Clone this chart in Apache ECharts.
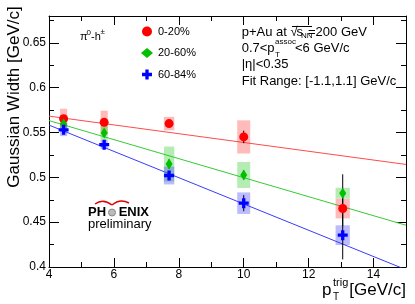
<!DOCTYPE html>
<html><head><meta charset="utf-8">
<script src="https://cdn.jsdelivr.net/npm/echarts@6/dist/echarts.min.js"></script>
<style>html,body{margin:0;padding:0;background:#fff}#c{width:415px;height:304px}</style>
</head><body><div id="c"></div>
<script>
// ---- data ----
const ptTrig = [4.45, 5.7, 7.7, 10.0, 13.05];
const boxHalfWidth = [0.11, 0.11, 0.16, 0.2, 0.22];
const width0_20 = [0.5655, 0.5614, 0.560, 0.5451, 0.4652];
const stat0_20 = [0.004, 0.004, 0.004, 0.007, 0.02];
const sys0_20 = [0.011, 0.013, 0.0075, 0.0185, 0.011];
const width20_60 = [0.5596, 0.5495, 0.5149, 0.5026, 0.4824];
const stat20_60 = [0.003, 0.004, 0.005, 0.005, 0.021];
const sys20_60 = [0.006, 0.008, 0.0195, 0.0145, 0.006];
const width60_84 = [0.553, 0.5365, 0.5021, 0.4712, 0.4355];
const stat60_84 = [0.003, 0.003, 0.005, 0.009, 0.027];
const sys60_84 = [0.007, 0.005, 0.01, 0.012, 0.011];
const fitX = [4, 15];
const fit0_20 = [0.5683, 0.5144];
const fit20_60 = [0.5633, 0.4466];
const fit60_84 = [0.5583, 0.397];
const legendNames = ['0-20%', '20-60%', '60-84%'];
const xTicks = [4, 6, 8, 10, 12, 14];
const yTicks = [0.4, 0.45, 0.5, 0.55, 0.6, 0.65];

const FONT = 'Liberation Sans, Arial, Helvetica, sans-serif';
const crossPath = 'path://M3,0 L6,0 L6,3 L9,3 L9,6 L6,6 L6,9 L3,9 L3,6 L0,6 L0,3 L3,3 Z';

const groups = [
  {name: legendNames[0], w: width0_20, st: stat0_20, sy: sys0_20, fit: fit0_20,
   color: '#ff0000', box: 'rgba(255,40,40,0.32)', line: '#ff4a4a', symbol: 'circle', size: 9},
  {name: legendNames[1], w: width20_60, st: stat20_60, sy: sys20_60, fit: fit20_60,
   color: '#00c000', box: 'rgba(40,200,40,0.35)', line: '#33cc33', symbol: 'diamond', size: [7, 11]},
  {name: legendNames[2], w: width60_84, st: stat60_84, sy: sys60_84, fit: fit60_84,
   color: '#0000ff', box: 'rgba(60,60,255,0.35)', line: '#3a3aff', symbol: crossPath, size: 10}
];

const series = [];
groups.forEach(g => {
  series.push({
    type: 'line', name: g.name + ' fit', data: fitX.map((x, i) => [x, g.fit[i]]),
    showSymbol: false, symbol: 'none', lineStyle: {color: g.line, width: 1}, clip: true,
    silent: true, z: 1
  });
});
groups.forEach(g => {
  series.push({
    type: 'custom', name: g.name + ' sys',
    data: ptTrig.map((x, i) => [x, g.w[i], boxHalfWidth[i], g.sy[i]]),
    renderItem: (params, api) => {
      const x = api.value(0), y = api.value(1), hw = api.value(2), s = api.value(3);
      const p1 = api.coord([x - hw, y + s]);
      const p2 = api.coord([x + hw, y - s]);
      return {type: 'rect', shape: {x: p1[0], y: p1[1], width: p2[0] - p1[0], height: p2[1] - p1[1]},
        style: {fill: g.box}};
    }, z: 2
  });
  series.push({
    type: 'custom', name: g.name + ' stat',
    data: ptTrig.map((x, i) => [x, g.w[i], g.st[i]]),
    renderItem: (params, api) => {
      const x = api.value(0), y = api.value(1), s = api.value(2);
      const p1 = api.coord([x, y + s]);
      const p2 = api.coord([x, y - s]);
      return {type: 'line', shape: {x1: p1[0], y1: p1[1], x2: p2[0], y2: p2[1]},
        style: {stroke: '#000', lineWidth: 1}};
    }, z: 2
  });
  series.push({
    type: 'scatter', name: g.name, data: ptTrig.map((x, i) => [x, g.w[i]]),
    symbol: g.symbol, symbolSize: g.size, itemStyle: {color: g.color, opacity: 1}, z: 2
  });
});

function axisCommon(show) {
  return {
    axisLine: {show: true, onZero: false, lineStyle: {color: '#000', width: 1}},
    axisTick: {show: true, inside: true, length: 9, lineStyle: {color: '#000'}},
    minorTick: {show: true, splitNumber: 2, length: 5, lineStyle: {color: '#000'}},
    splitLine: {show: false},
    axisLabel: {show: show, color: '#000', fontFamily: FONT, fontSize: 12, showMaxLabel: false}
  };
}

const chart = echarts.init(document.getElementById('c'), null, {renderer: 'canvas'});
const xb = axisCommon(true); xb.axisLabel.margin = 2;
xb.axisLabel.formatter = v => xTicks.indexOf(v) >= 0 ? String(v) : '';
const yb = axisCommon(true); yb.axisLabel.margin = 3;
yb.axisLabel.formatter = v => yTicks.some(t => Math.abs(t - v) < 1e-9) ? String(+v.toFixed(2)) : '';
yb.axisTick.length = 10;
const yr = axisCommon(false); yr.axisTick.length = 10;

const t = (text, x, y, size, extra) => Object.assign({type: 'text', x: x, y: y, silent: true,
  style: Object.assign({text: text, font: size + 'px ' + FONT, fill: '#000', verticalAlign: 'middle', align: 'left'}, extra || {})});

const yTitle = t('Gaussian Width [GeV/c]', 14, 97, 17, {align: 'center'});
yTitle.rotation = Math.PI / 2;

chart.setOption({
  animation: false,
  grid: {left: 49, right: 9, top: 16, bottom: 37},
  xAxis: [
    Object.assign({type: 'value', position: 'bottom', min: 4, max: 15, interval: 2}, xb),
    Object.assign({type: 'value', position: 'top', min: 4, max: 15, interval: 2}, axisCommon(false))
  ],
  yAxis: [
    Object.assign({type: 'value', position: 'left', min: 0.4, max: 0.68, interval: 0.05}, yb),
    Object.assign({type: 'value', position: 'right', min: 0.4, max: 0.68, interval: 0.05}, yr)
  ],
  legend: {
    data: legendNames, orient: 'vertical', left: 136, top: 21, itemWidth: 12, itemHeight: 10,
    itemGap: 10.5, textStyle: {fontFamily: FONT, fontSize: 11, color: '#000'}, selectedMode: false
  },
  series: series,
  graphic: [
    yTitle,
    t('p', 322, 290, 17),
    t('trig', 333, 283, 11),
    t('T', 333, 297, 10),
    t('[GeV/c]', 406, 290, 17, {align: 'right'}),
    t('π', 80, 37, 11),
    t('0', 86.5, 33, 8),
    t('-h', 91, 37, 11),
    t('±', 100.5, 32, 8),
    t('p+Au at √', 241.7, 32, 13),
    {type: 'line', silent: true, shape: {x1: 292, y1: 26.5, x2: 312, y2: 26.5}, style: {stroke: '#000', lineWidth: 1}},
    t('s', 296.5, 32, 13),
    t('NN', 301, 35.5, 8),
    t('=200 GeV', 308, 32, 13),
    t('0.7<p', 241.7, 48, 13),
    t('assoc', 275, 41.5, 8),
    t('T', 275, 55, 8),
    t('<6 GeV/c', 295, 48, 13),
    t('|η|<0.35', 241.7, 64, 13),
    t('Fit Range: [-1.1,1.1] GeV/c', 241.7, 81, 13),
    t('PH', 88, 212.5, 13, {font: 'bold 13px ' + FONT}),
    t('ENIX', 149, 212.5, 13, {align: 'right', font: 'bold 13px ' + FONT}),
    {type: 'circle', silent: true, shape: {cx: 112, cy: 212.5, r: 3.5}, style: {fill: '#bbb', stroke: '#888', lineWidth: 1}},
    t('preliminary', 88, 224.5, 13),
    {type: 'bezierCurve', silent: true, shape: {x1: 95, y1: 204, cpx1: 103, cpy1: 198, x2: 112, y2: 205},
      style: {stroke: '#e00000', fill: null, lineWidth: 1.5}},
    {type: 'bezierCurve', silent: true, shape: {x1: 112, y1: 205, cpx1: 120, cpy1: 198, x2: 129, y2: 203},
      style: {stroke: '#e00000', fill: null, lineWidth: 1.5}}
  ]
});
</script></body></html>
